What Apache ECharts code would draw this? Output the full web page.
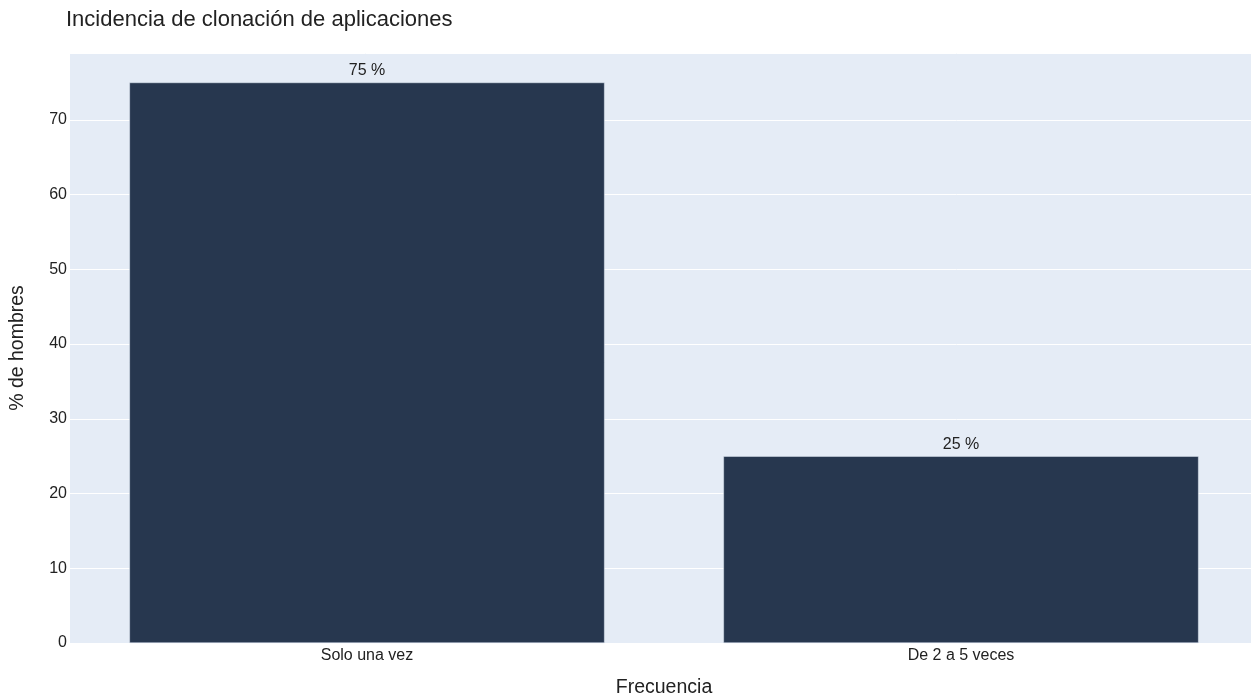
<!DOCTYPE html>
<html><head><meta charset="utf-8">
<script src="https://cdn.jsdelivr.net/npm/echarts@6/dist/echarts.min.js"></script>
<style>html,body{margin:0;padding:0;background:#fff}#c{width:1251px;height:700px}</style>
</head><body><div id="c"></div>
<script>
const categories = ["Solo una vez", "De 2 a 5 veces"];
const values = [75, 25];
const yTicks = [0, 10, 20, 30, 40, 50, 60, 70];

const chart = echarts.init(document.getElementById('c'), null, {renderer: 'canvas'});
const font = "'Liberation Sans', Arial, sans-serif";
chart.setOption({
  animation: false,
  backgroundColor: '#fff',
  title: {
    text: 'Incidencia de clonación de aplicaciones',
    left: 61, top: 4,
    textStyle: {fontFamily: font, fontSize: 22, fontWeight: 'normal', color: '#222'}
  },
  grid: {left: 70, width: 1188, top: 53, bottom: 57, backgroundColor: '#E5ECF6', show: true, borderWidth: 0,
    containLabel: false, outerBoundsMode: 'none'},
  xAxis: {
    type: 'category', data: categories,
    name: 'Frecuencia', nameLocation: 'middle', nameGap: 35,
    nameTextStyle: {fontFamily: font, fontSize: 19.5, color: '#222'},
    axisLine: {show: false}, axisTick: {show: false},
    axisLabel: {fontFamily: font, fontSize: 16, color: '#222', margin: 5},
    splitLine: {show: false}
  },
  yAxis: {
    type: 'value', min: 0, max: 78.947, interval: 10,
    name: '% de hombres', nameLocation: 'middle', nameGap: 42, nameRotate: 90,
    nameTextStyle: {fontFamily: font, fontSize: 19.5, color: '#222'},
    axisLine: {show: false}, axisTick: {show: false},
    axisLabel: {fontFamily: font, fontSize: 16, color: '#222', margin: 3,
      formatter: v => yTicks.includes(v) ? String(v) : ''},
    splitLine: {lineStyle: {color: '#fff', width: 1}}
  },
  series: [{
    type: 'bar', data: values, barCategoryGap: '20%',
    itemStyle: {color: '#27374f', borderColor: '#E5ECF6', borderWidth: 0.5},
    label: {show: true, position: 'top', distance: 4, formatter: p => p.value + ' %',
      fontFamily: font, fontSize: 16, color: '#222'}
  }]
});
</script></body></html>
